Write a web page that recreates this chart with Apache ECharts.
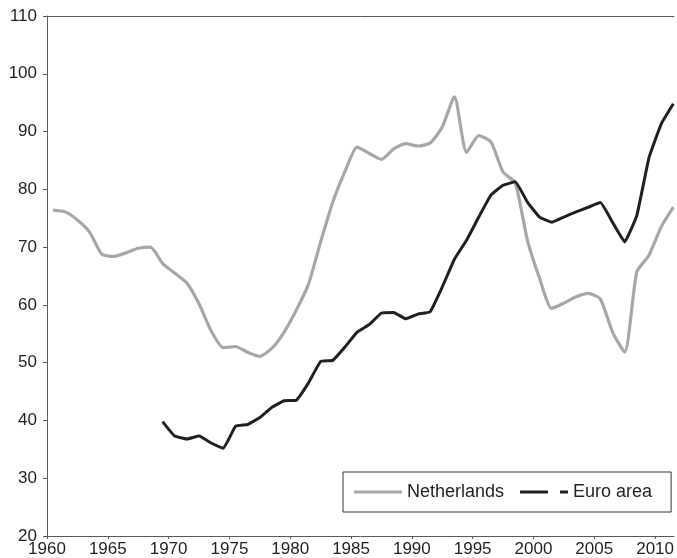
<!DOCTYPE html>
<html>
<head>
<meta charset="utf-8">
<script src="https://cdn.jsdelivr.net/npm/echarts@6/dist/echarts.min.js"></script>
<style>
  html, body { margin: 0; padding: 0; background: #fff; }
  #chart { width: 677px; height: 558px; }
</style>
</head>
<body>
<div id="chart"></div>
<script>
// years for each series
const nlYears = [
  1960, 1961, 1962, 1963, 1964, 1965, 1966, 1967, 1968, 1969,
  1970, 1971, 1972, 1973, 1974, 1975, 1976, 1977, 1978, 1979,
  1980, 1981, 1982, 1983, 1984, 1985, 1986, 1987, 1988, 1989,
  1990, 1991, 1992, 1993, 1994, 1995, 1996, 1997, 1998, 1999,
  2000, 2001, 2002, 2003, 2004, 2005, 2006, 2007, 2008, 2009,
  2010, 2011
]
const netherlands = [
  76.4, 76.1, 74.7, 72.6, 68.8, 68.4, 69.0, 69.8, 70.0, 67.2,
  65.5, 63.8, 60.2, 55.5, 52.6, 52.8, 51.8, 51.1, 52.5, 55.3,
  59.1, 63.6, 70.9, 77.8, 83.1, 87.3, 86.2, 85.2, 87.0, 87.9,
  87.5, 88.0, 90.8, 96.0, 86.4, 89.3, 88.2, 83.0, 81.1, 71.2,
  64.6, 59.4, 60.3, 61.4, 62.0, 61.0, 55.3, 51.8, 65.7, 68.6,
  73.5, 76.9
]
const euroYears = [
  1969,
  1970, 1971, 1972, 1973, 1974, 1975, 1976, 1977, 1978, 1979,
  1980, 1981, 1982, 1983, 1984, 1985, 1986, 1987, 1988, 1989,
  1990, 1991, 1992, 1993, 1994, 1995, 1996, 1997, 1998, 1999,
  2000, 2001, 2002, 2003, 2004, 2005, 2006, 2007, 2008, 2009,
  2010, 2011
]
const euroArea = [
  39.8,
  37.3, 36.8, 37.3, 36.1, 35.2, 39.0, 39.3, 40.5, 42.3, 43.4,
  43.5, 46.5, 50.2, 50.4, 52.7, 55.3, 56.6, 58.6, 58.7, 57.6,
  58.4, 58.8, 63.1, 67.9, 71.2, 75.2, 79.0, 80.7, 81.3, 77.8,
  75.2, 74.3, 75.2, 76.1, 76.9, 77.7, 74.3, 70.9, 75.5, 85.5,
  91.3, 94.8
]
const xTicks = [1960, 1965, 1970, 1975, 1980, 1985, 1990, 1995, 2000, 2005, 2010]

// each annual value is drawn at the middle of its year
function toPoints(years, values) {
  return years.map((y, i) => [y + 0.5, values[i]])
}

const fontFamily = '"Liberation Sans", Arial, sans-serif'
const ink = '#231f20'
const axisGrey = '#5a5a5a'

const chart = echarts.init(document.getElementById('chart'))
chart.setOption({
  animation: false,
  backgroundColor: '#fff',
  grid: { left: 47, right: 0, top: 16, bottom: 22, containLabel: false },
  legend: {
    left: 343,
    top: 472,
    padding: [11, 19, 11, 11],
    borderColor: '#333',
    borderWidth: 1,
    backgroundColor: '#fff',
    itemWidth: 48,
    itemHeight: 3,
    itemGap: 16,
    textStyle: { fontFamily: fontFamily, fontSize: 18, color: ink },
    data: [
      { name: 'Netherlands', icon: 'path://M0,0 H48 V3 H0 Z' },
      { name: 'Euro area', icon: 'path://M0,0 H28 V3 H0 Z M40,0 H48 V3 H40 Z' }
    ]
  },
  xAxis: [
    {
      type: 'value',
      min: 1960,
      max: 2011.55,
      interval: 5,
      axisLine: { show: true, lineStyle: { color: axisGrey, width: 1 } },
      axisTick: { show: true, inside: false, length: 3, lineStyle: { color: axisGrey } },
      axisLabel: {
        margin: 5,
        showMaxLabel: false,
        fontFamily: fontFamily,
        fontSize: 17,
        color: ink,
        formatter: v => (xTicks.indexOf(v) >= 0 ? String(v) : '')
      },
      splitLine: { show: false }
    },
    {
      type: 'value',
      position: 'top',
      min: 1960,
      max: 2011.55,
      axisLine: { show: true, lineStyle: { color: axisGrey, width: 1 } },
      axisTick: { show: false },
      axisLabel: { show: false },
      splitLine: { show: false }
    }
  ],
  yAxis: {
    type: 'value',
    min: 20,
    max: 110,
    interval: 10,
    axisLine: { show: true, lineStyle: { color: axisGrey, width: 1 } },
    axisTick: { show: true, inside: false, length: 4, lineStyle: { color: axisGrey } },
    axisLabel: { margin: 10, fontFamily: fontFamily, fontSize: 17, color: ink },
    splitLine: { show: false }
  },
  series: [
    {
      name: 'Netherlands',
      type: 'line',
      data: toPoints(nlYears, netherlands),
      showSymbol: false,
      smooth: 0.2,
      color: '#a5a7aa',
      lineStyle: { color: '#a5a7aa', width: 3.2 }
    },
    {
      name: 'Euro area',
      type: 'line',
      data: toPoints(euroYears, euroArea),
      showSymbol: false,
      smooth: 0.1,
      color: ink,
      lineStyle: { color: ink, width: 3 }
    }
  ]
})
</script>
</body>
</html>
